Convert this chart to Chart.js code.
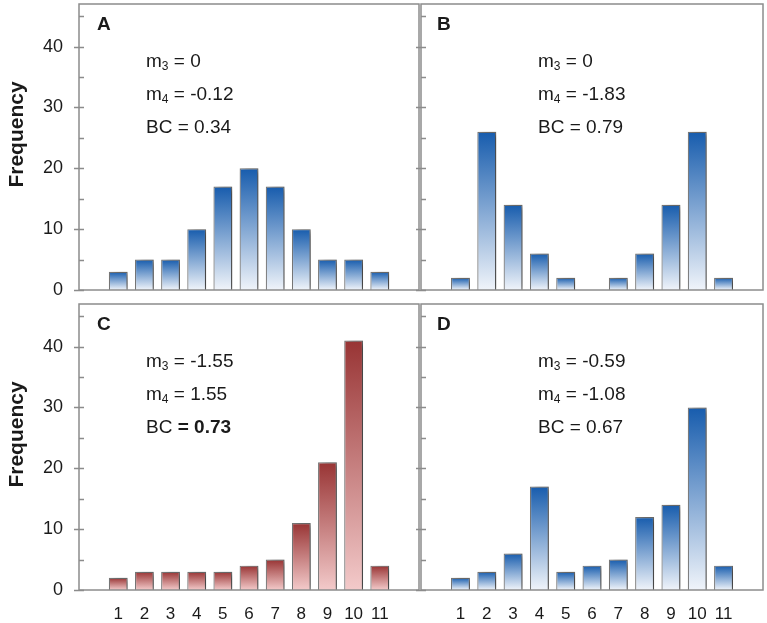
<!DOCTYPE html>
<html>
<head>
<meta charset="utf-8">
<script src="https://cdn.jsdelivr.net/npm/chart.js@4"></script>
<style>
  body { margin: 0; background: #fff; font-family: "Liberation Sans", Arial, sans-serif; color: #1a1a1a; }
  #wrap { position: relative; width: 767px; height: 623px; overflow: hidden; }
  .panel { position: absolute; }
  .note { position: absolute; font-size: 19px; line-height: 28px; white-space: nowrap; }
  .note .s { font-size: 12px; vertical-align: -3px; }
  .tag { position: absolute; font-size: 19px; font-weight: bold; line-height: 1; }
  .ylab { position: absolute; width: 200px; height: 25px; line-height: 25px; text-align: center;
          font-size: 21px; font-weight: bold; transform: rotate(-90deg); }
</style>
</head>
<body>
<div id="wrap">
  <div class="panel" style="left:0;top:0"><canvas id="chartA" width="420" height="300"></canvas></div>
  <div class="panel" style="left:410px;top:0"><canvas id="chartB" width="357" height="300"></canvas></div>
  <div class="panel" style="left:0;top:300px"><canvas id="chartC" width="420" height="323"></canvas></div>
  <div class="panel" style="left:410px;top:300px"><canvas id="chartD" width="357" height="323"></canvas></div>

  <div class="ylab" style="left:-85px;top:122px">Frequency</div>
  <div class="ylab" style="left:-85px;top:422px">Frequency</div>

  <div class="tag" style="left:97px;top:14px">A</div>
  <div class="tag" style="left:437px;top:14px">B</div>
  <div class="tag" style="left:97px;top:314px">C</div>
  <div class="tag" style="left:437px;top:314px">D</div>

  <div class="note" style="left:146px;top:47px">m<span class="s">3</span> = 0<br>m<span class="s">4</span> = -0.12<br>BC = 0.34</div>
  <div class="note" style="left:538px;top:47px">m<span class="s">3</span> = 0<br>m<span class="s">4</span> = -1.83<br>BC = 0.79</div>
  <div class="note" style="left:146px;top:347px">m<span class="s">3</span> = -1.55<br>m<span class="s">4</span> = 1.55<br>BC <b>= 0.73</b></div>
  <div class="note" style="left:538px;top:347px">m<span class="s">3</span> = -0.59<br>m<span class="s">4</span> = -1.08<br>BC = 0.67</div>
</div>
<script>
// bins 1..11, frequencies
const categories = ['1', '2', '3', '4', '5', '6', '7', '8', '9', '10', '11'];
const yTicks = [0, 10, 20, 30, 40];
const freqA = [3, 5, 5, 10, 17, 20, 17, 10, 5, 5, 3];
const freqB = [2, 26, 14, 6, 2, 0, 2, 6, 14, 26, 2];
const freqC = [2, 3, 3, 3, 3, 4, 5, 11, 21, 41, 4];
const freqD = [2, 3, 6, 17, 3, 4, 5, 12, 14, 30, 4];

const BLUE = ['#175cad', '#f0f4fa'];
const RED = ['#983434', '#f3caca'];
const AXIS = '#8c8c8c';

// vertical gradient per bar, dark at the top, pale at the baseline
function barFill([top, bottom]) {
  return ctx => {
    const chart = ctx.chart;
    if (!chart.chartArea || ctx.raw == null) return top;
    const y = chart.scales.y;
    const y1 = y.getPixelForValue(ctx.raw), y0 = y.getPixelForValue(0);
    if (y0 - y1 < 1) return top;
    const g = chart.ctx.createLinearGradient(0, y1, 0, y0);
    g.addColorStop(0, top);
    g.addColorStop(1, bottom);
    return g;
  };
}

const barShadow = {
  id: 'barShadow',
  beforeDatasetsDraw(chart) {
    const c = chart.ctx;
    c.save();
    c.shadowColor = 'rgba(0,0,0,0.45)';
    c.shadowBlur = 6;
    c.shadowOffsetX = 5;
    c.shadowOffsetY = 1;
  },
  afterDatasetsDraw(chart) { chart.ctx.restore(); }
};

// box around the plot area; major ticks cross the y axis, minor ones sit inside
const frame = {
  id: 'frame',
  afterDraw(chart) {
    const c = chart.ctx, a = chart.chartArea, y = chart.scales.y;
    c.save();
    c.strokeStyle = AXIS;
    c.lineWidth = 1.5;
    c.strokeRect(a.left, a.top, a.right - a.left, a.bottom - a.top);
    c.beginPath();
    for (let v = 0; v <= 45; v += 5) {
      const py = Math.round(y.getPixelForValue(v)) + 0.5;
      c.moveTo(v % 10 === 0 ? a.left - 5 : a.left, py);
      c.lineTo(a.left + 5, py);
    }
    c.stroke();
    c.restore();
  }
};

function makePanel(id, values, colors, opts) {
  new Chart(document.getElementById(id), {
    type: 'bar',
    data: {
      labels: ['', ...categories, ''],
      datasets: [{
        data: [null, ...values, null],
        backgroundColor: barFill(colors),
        borderColor: '#777777',
        borderWidth: 1.2,
        barPercentage: 0.72,
        categoryPercentage: 1
      }]
    },
    options: {
      responsive: false,
      animation: false,
      layout: { padding: { top: 4, right: opts.padRight, left: 0, bottom: 0 } },
      plugins: { legend: { display: false }, tooltip: { enabled: false } },
      scales: {
        x: {
          grid: { display: false, drawTicks: false },
          border: { display: false },
          ticks: {
            display: opts.xLabels, padding: 14, maxRotation: 0, autoSkip: false,
            color: '#1a1a1a', font: { family: 'Liberation Sans', size: 17 }
          },
          afterFit: s => { s.height = opts.xHeight; s.paddingLeft = 0; s.paddingRight = 0; }
        },
        y: {
          min: 0, max: 47,
          grid: { display: false, drawTicks: false },
          border: { display: false },
          afterBuildTicks: s => { s.ticks = yTicks.map(v => ({ value: v })); },
          ticks: {
            display: opts.yLabels, padding: 16,
            color: '#1a1a1a', font: { family: 'Liberation Sans', size: 18 }
          },
          afterFit: s => { s.width = opts.yWidth; s.paddingTop = 0; s.paddingBottom = 0; }
        }
      }
    },
    plugins: [barShadow, frame]
  });
}

makePanel('chartA', freqA, BLUE, { yWidth: 79, padRight: 1, xHeight: 10, xLabels: false, yLabels: true });
makePanel('chartB', freqB, BLUE, { yWidth: 11, padRight: 4, xHeight: 10, xLabels: false, yLabels: false });
makePanel('chartC', freqC, RED, { yWidth: 79, padRight: 1, xHeight: 33, xLabels: true, yLabels: true });
makePanel('chartD', freqD, BLUE, { yWidth: 11, padRight: 4, xHeight: 33, xLabels: true, yLabels: false });
</script>
</body>
</html>
